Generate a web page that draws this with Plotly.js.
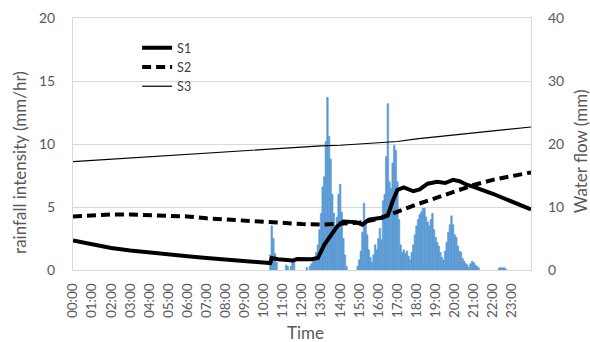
<!DOCTYPE html>
<html><head><meta charset="utf-8">
<script src="https://cdn.plot.ly/plotly-3.0.1.min.js"></script>
<style>html,body{margin:0;padding:0;background:#fff}#chart{width:590px;height:342px}</style>
</head><body><div id="chart"></div>
<script>
const tickLabels = ["00:00","01:00","02:00","03:00","04:00","05:00","06:00","07:00","08:00","09:00","10:00","11:00",
  "12:00","13:00","14:00","15:00","16:00","17:00","18:00","19:00","20:00","21:00","22:00","23:00"];

// rainfall intensity (mm/hr), 5-minute intervals (only non-zero intervals listed)
const rainTimes = [
  "10:20","10:25","10:30","10:35","10:40",
  "11:10","11:15","11:25","11:30","11:35",
  "12:15","12:25","12:30","12:35","12:40","12:45","12:50","12:55",
  "13:00","13:05","13:10","13:15","13:20","13:25","13:30","13:35","13:40","13:45","13:50","13:55",
  "14:00","14:05","14:10","14:15","14:20","14:55",
  "15:00","15:05","15:10","15:15","15:20","15:25","15:30","15:35","15:40","15:45","15:50","15:55",
  "16:00","16:05","16:10","16:15","16:20","16:25","16:30","16:35","16:40","16:45","16:50","16:55",
  "17:00","17:05","17:10","17:15","17:20","17:25","17:30","17:35","17:40","17:45","17:50","17:55",
  "18:00","18:05","18:10","18:15","18:20","18:25","18:30","18:35","18:40","18:45","18:50","18:55",
  "19:00","19:05","19:10","19:15","19:20","19:25","19:30","19:35","19:40","19:45","19:50","19:55",
  "20:00","20:05","20:10","20:15","20:20","20:25","20:30","20:35","20:40","20:45","20:50","20:55",
  "21:00","21:05","21:10","21:15",
  "22:20","22:25","22:30","22:35","22:40"];
const rainValues = [
  1.2,3.5,2.5,1.3,0.6,
  0.4,0.3,0.3,0.8,0.7,
  0.2,0.3,0.5,0.7,1.0,1.4,2.0,3.2,
  4.5,6.6,7.4,10.2,13.7,10.6,8.8,6.0,4.5,3.3,4.2,6.0,
  6.8,4.6,2.5,1.2,0.3,0.3,
  0.8,1.5,3.0,5.3,4.0,2.8,1.6,1.0,0.6,1.2,2.0,1.6,
  2.5,3.3,2.4,5.5,6.0,9.0,13.2,7.0,6.5,8.5,9.9,9.5,
  7.0,4.0,2.0,1.4,1.6,1.3,1.5,1.1,0.8,1.4,2.0,2.8,
  3.5,4.0,4.4,4.6,4.9,4.9,4.2,3.8,3.5,4.0,4.5,3.2,
  2.6,2.2,1.9,1.4,1.0,0.8,1.5,2.2,3.0,3.6,4.3,3.6,
  2.8,2.6,1.9,1.5,1.4,0.9,0.7,0.5,0.4,0.2,0.5,0.7,
  0.6,0.4,0.3,0.2,
  0.15,0.2,0.15,0.2,0.1];

// water flow (mm)
const s1Times = ["00:00","01:00","02:00","03:00","04:00","05:00","06:00","07:00","08:00","09:00","10:00","10:20",
  "10:25","10:45","11:30","11:45","12:30","12:50","13:10","13:30","13:50","14:10","14:50","15:10","15:30","16:10",
  "16:30","16:45","17:00","17:20","17:50","18:10","18:35","19:05","19:30","19:55","20:15","20:40","21:00","22:00",
  "23:00","24:00"];
const s1Values = [4.7,4.1,3.5,3.1,2.75,2.45,2.2,1.9,1.65,1.45,1.2,1.1,
  1.9,1.7,1.5,1.75,1.7,1.9,4.0,5.5,6.9,7.7,7.6,7.2,8.0,8.3,
  8.7,10.9,12.7,13.1,12.5,12.8,13.7,14.0,13.8,14.3,14.1,13.5,13.2,12.1,
  10.9,9.6];
const flowTimes = ["00:00","01:00","02:00","03:00","04:00","05:00","06:00","07:00","08:00","09:00","10:00","11:00",
  "12:00","13:00","14:00","15:00","16:00","17:00","18:00","19:00","20:00","21:00","22:00","23:00","24:00"];
const s2Values = [8.5,8.7,8.8,8.8,8.7,8.6,8.5,8.2,8.0,7.8,7.6,7.5,
  7.3,7.2,7.3,7.5,8.1,9.3,10.4,11.4,12.5,13.5,14.3,14.9,15.5];
const s3Values = [17.2,17.4,17.6,17.8,18.0,18.2,18.4,18.6,18.8,19.0,19.2,19.4,
  19.6,19.7,19.8,20.0,20.2,20.4,20.8,21.1,21.4,21.7,22.0,22.3,22.7];

const toH = s => { const p = s.split(':'); return (+p[0]) + (+p[1]) / 60; };

const FONT = 'Lato, "Open Sans", sans-serif';
const GRAY = '#595959';
const BLUE = '#5B9BD5';

const traces = [
  { type: 'bar', x: rainTimes.map(toH), y: rainValues, width: 5/60, yaxis: 'y',
    marker: { color: BLUE, line: { width: 0.6, color: BLUE } }, showlegend: false, name: 'rainfall' },
  { type: 'scatter', mode: 'lines', name: 'S1', x: s1Times.map(toH), y: s1Values, yaxis: 'y2',
    line: { color: '#000000', width: 4 } },
  { type: 'scatter', mode: 'lines', name: 'S2', x: flowTimes.map(toH), y: s2Values, yaxis: 'y2',
    line: { color: '#000000', width: 4, dash: '9px,5px' } },
  { type: 'scatter', mode: 'lines', name: 'S3', x: flowTimes.map(toH), y: s3Values, yaxis: 'y2',
    line: { color: '#000000', width: 1.2 } }
];

const ytickfont = { family: FONT, size: 14, color: GRAY };
const xtickfont = { family: FONT, size: 13.5, color: GRAY };
const titlefont = { family: FONT, size: 17, color: GRAY };
const layout = {
  width: 590, height: 342,
  margin: { l: 73, r: 59, t: 18, b: 72 },
  paper_bgcolor: '#ffffff', plot_bgcolor: '#ffffff',
  font: { family: FONT, color: GRAY },
  bargap: 0,
  hovermode: false,
  showlegend: true,
  legend: { x: 0.14, y: 0.94, xanchor: 'left', yanchor: 'top', bgcolor: 'rgba(0,0,0,0)',
    font: { family: FONT, size: 12.5, color: '#404040' }, tracegroupgap: 0 },
  xaxis: { range: [0, 24], tickvals: tickLabels.map(toH), ticktext: tickLabels, tickangle: -90,
    showgrid: false, zeroline: false, showline: true, mirror: true, linecolor: '#D9D9D9', linewidth: 1,
    ticks: '', ticklabelstandoff: 7, tickfont: xtickfont, fixedrange: true },
  yaxis: { range: [0, 20], dtick: 5, showgrid: true, gridcolor: '#D9D9D9', zeroline: false,
    showline: true, mirror: true, linecolor: '#D9D9D9', ticks: '', ticklabelstandoff: 14,
    tickfont: ytickfont, fixedrange: true },
  yaxis2: { range: [0, 40], dtick: 10, overlaying: 'y', side: 'right', showgrid: false, zeroline: false,
    showline: false, ticks: '', ticklabelstandoff: 16, tickfont: ytickfont, fixedrange: true },
  annotations: [
    { text: 'rainfall intensity (mm/hr)', xref: 'paper', yref: 'paper', x: -0.1157, y: 0.425,
      xanchor: 'center', yanchor: 'middle', textangle: -90, showarrow: false, font: titlefont },
    { text: 'Water flow (mm)', xref: 'paper', yref: 'paper', x: 1.108, y: 0.473,
      xanchor: 'center', yanchor: 'middle', textangle: -90, showarrow: false, font: titlefont },
    { text: 'Time', xref: 'paper', yref: 'paper', x: 0.5066, y: -0.2475,
      xanchor: 'center', yanchor: 'middle', showarrow: false, font: titlefont }
  ]
};

Plotly.newPlot('chart', traces, layout, { displayModeBar: false, staticPlot: true });
</script>
</body></html>
